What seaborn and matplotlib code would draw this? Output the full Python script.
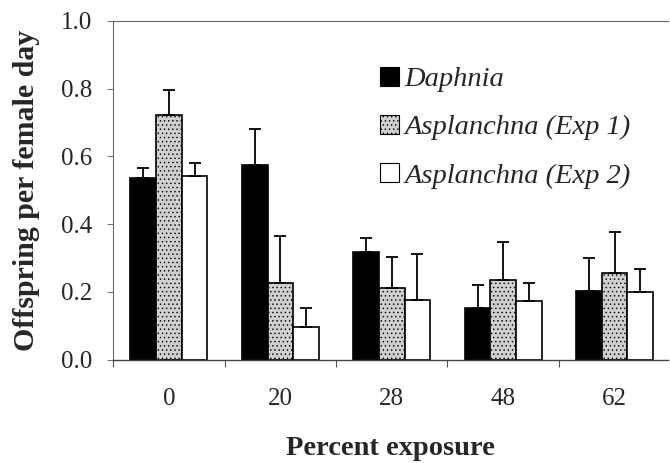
import numpy as np
import pandas as pd
import seaborn as sns
import matplotlib.pyplot as plt
from matplotlib.patches import Patch

exposure = ["0", "20", "28", "48", "62"]
series = ["Daphnia", "Asplanchna (Exp 1)", "Asplanchna (Exp 2)"]
daphnia = [0.536, 0.575, 0.319, 0.152, 0.204]
asp1 = [0.722, 0.225, 0.212, 0.234, 0.257]
asp2 = [0.542, 0.098, 0.176, 0.173, 0.201]
daphnia_err = [0.029, 0.105, 0.039, 0.070, 0.097]
asp1_err = [0.074, 0.140, 0.092, 0.112, 0.121]
asp2_err = [0.038, 0.054, 0.136, 0.052, 0.067]

colors = ["black", "#cfcfcf", "white"]
SERIF = ["Liberation Serif", "DejaVu Serif"]


def main():
    df = pd.DataFrame({
        "Exposure": exposure * 3,
        "Group": [s for s in series for _ in exposure],
        "Value": daphnia + asp1 + asp2,
    })
    errs = [daphnia_err, asp1_err, asp2_err]

    sns.set_style("ticks")
    plt.rcParams["font.family"] = SERIF
    plt.rcParams["hatch.linewidth"] = 0.5

    fig = plt.figure(figsize=(6.7, 4.63), dpi=100)
    ax = fig.add_axes([0.169, 0.223, 0.828, 0.732])
    sns.barplot(data=df, x="Exposure", y="Value", hue="Group", order=exposure,
                hue_order=series, palette=colors, width=0.69, gap=0,
                edgecolor="black", linewidth=1.2, saturation=1, legend=False, ax=ax)

    for cont, err in zip(ax.containers, errs):
        xs = [p.get_x() + p.get_width() / 2 for p in cont.patches]
        ys = [p.get_height() for p in cont.patches]
        ax.errorbar(xs, ys, yerr=[np.zeros(len(err)), err], fmt="none",
                    ecolor="black", elinewidth=1.3, capsize=4, capthick=1.3)

    for p in ax.containers[1].patches:
        p.set_hatch("....")

    ax.set_ylim(0, 1.0)
    ax.set_xlim(-0.5, 4.48)
    ticks = np.arange(0, 1.01, 0.2)
    ax.set_yticks(ticks)
    ax.set_yticklabels([f"{v:.1f}" for v in ticks])
    ax.set_xticks(range(len(exposure)))
    ax.set_xticklabels(exposure)
    ax.set_xticks([i - 0.5 for i in range(len(exposure))], minor=True)
    ax.tick_params(axis="x", which="major", length=0, pad=20, labelsize=18)
    ax.tick_params(axis="x", which="minor", length=5, width=0.8, color="#555555")
    ax.tick_params(axis="y", length=4, width=0.8, pad=11, labelsize=18, color="#777777")

    for s in ["top", "left"]:
        ax.spines[s].set_color("#666666")
        ax.spines[s].set_linewidth(0.8)
    ax.spines["right"].set_visible(False)
    ax.spines["bottom"].set_color("#444444")
    ax.spines["bottom"].set_linewidth(1.0)

    ax.set_xlabel("Percent exposure", fontsize=20.5, fontweight="bold", labelpad=19)
    ax.set_ylabel("Offspring per female day", fontsize=21.5, fontweight="bold", labelpad=15)

    handles = [Patch(facecolor=c, edgecolor="black", linewidth=0.8, hatch=h)
               for c, h in zip(colors, ["", "....", ""])]
    ax.legend(handles, series, loc="upper left", bbox_to_anchor=(0.481, 0.865),
              frameon=False, prop={"family": SERIF, "style": "italic", "size": 20.5},
              handlelength=0.65, handleheight=0.65, handletextpad=0.2,
              labelspacing=0.8, borderaxespad=0, borderpad=0)

    fig.savefig("out.png", dpi=100)


if __name__ == "__main__":
    main()
